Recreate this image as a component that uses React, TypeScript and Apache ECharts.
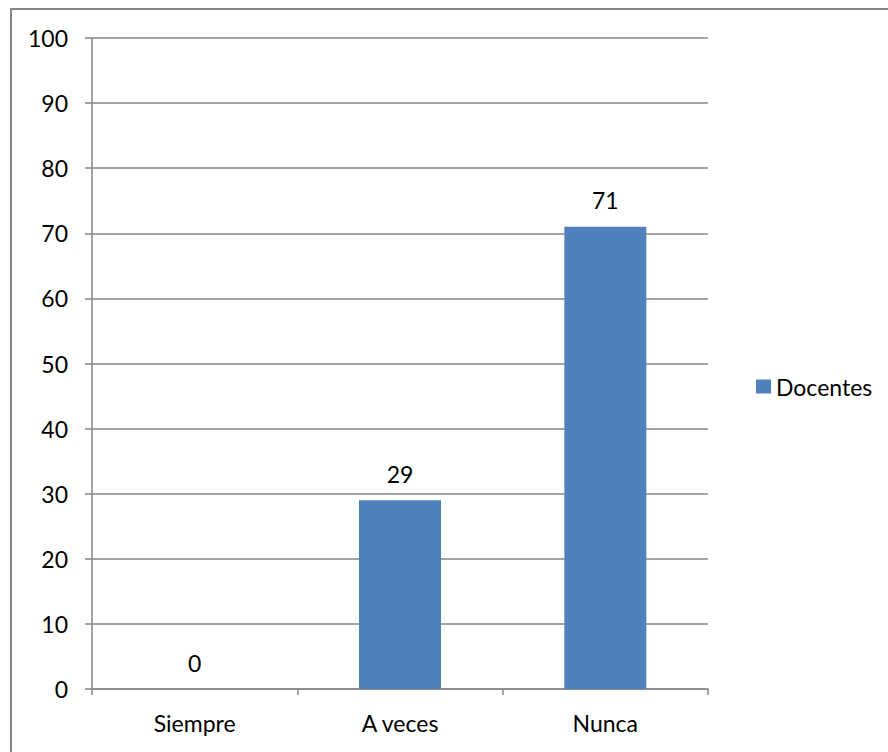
import React, { useEffect, useRef } from "react";
import * as echarts from "echarts";

const categories = ["Siempre", "A veces", "Nunca"];
const docentes = [0, 29, 71];
const seriesName = "Docentes";
const yMin = 0;
const yMax = 100;
const yStep = 10;

const FONT = "Lato, 'Noto Sans', sans-serif";
const AXIS_GRAY = "#868686";
const BAR_BLUE = "#4f81bd";

export default function App() {
  const ref = useRef<HTMLDivElement>(null);

  useEffect(() => {
    if (!ref.current) return;
    const chart = echarts.init(ref.current, undefined, { renderer: "svg" });
    chart.setOption({
      animation: false,
      backgroundColor: "#ffffff",
      textStyle: { fontFamily: FONT },
      graphic: [
        {
          type: "rect",
          shape: { x: 11, y: 9, width: 900, height: 800 },
          style: { fill: "none", stroke: AXIS_GRAY, lineWidth: 2 },
          silent: true,
          z: -1,
        },
      ],
      grid: { left: 92, top: 38, right: 180, bottom: 63, containLabel: false },
      legend: {
        data: [seriesName],
        left: 751,
        top: 370,
        orient: "vertical",
        icon: "rect",
        itemWidth: 15,
        itemHeight: 14,
        textStyle: { fontFamily: FONT, fontSize: 23, color: "#000" },
      },
      xAxis: {
        type: "category",
        data: categories,
        axisLine: { show: true, lineStyle: { color: AXIS_GRAY, width: 1.5 } },
        axisTick: { show: true, alignWithLabel: false, length: 6, lineStyle: { color: AXIS_GRAY, width: 1.5 } },
        axisLabel: { color: "#000", fontFamily: FONT, fontSize: 23, margin: 22 },
        splitLine: { show: false },
      },
      yAxis: {
        type: "value",
        min: yMin,
        max: yMax,
        interval: yStep,
        axisLine: { show: true, lineStyle: { color: AXIS_GRAY, width: 1.5 } },
        axisTick: { show: true, length: 7, lineStyle: { color: AXIS_GRAY, width: 1.5 } },
        axisLabel: { color: "#000", fontFamily: FONT, fontSize: 23, margin: 24 },
        splitLine: { show: true, lineStyle: { color: AXIS_GRAY, width: 1.5 } },
      },
      series: [
        {
          name: seriesName,
          type: "bar",
          data: docentes,
          barWidth: 82,
          itemStyle: { color: BAR_BLUE },
          label: {
            show: true,
            position: "top",
            distance: 15,
            color: "#000",
            fontFamily: FONT,
            fontSize: 23,
          },
        },
      ],
    });
    return () => chart.dispose();
  }, []);

  return (
    <div
      ref={ref}
      style={{ position: "absolute", left: 0, top: 0, width: 888, height: 752 }}
    />
  );
}
